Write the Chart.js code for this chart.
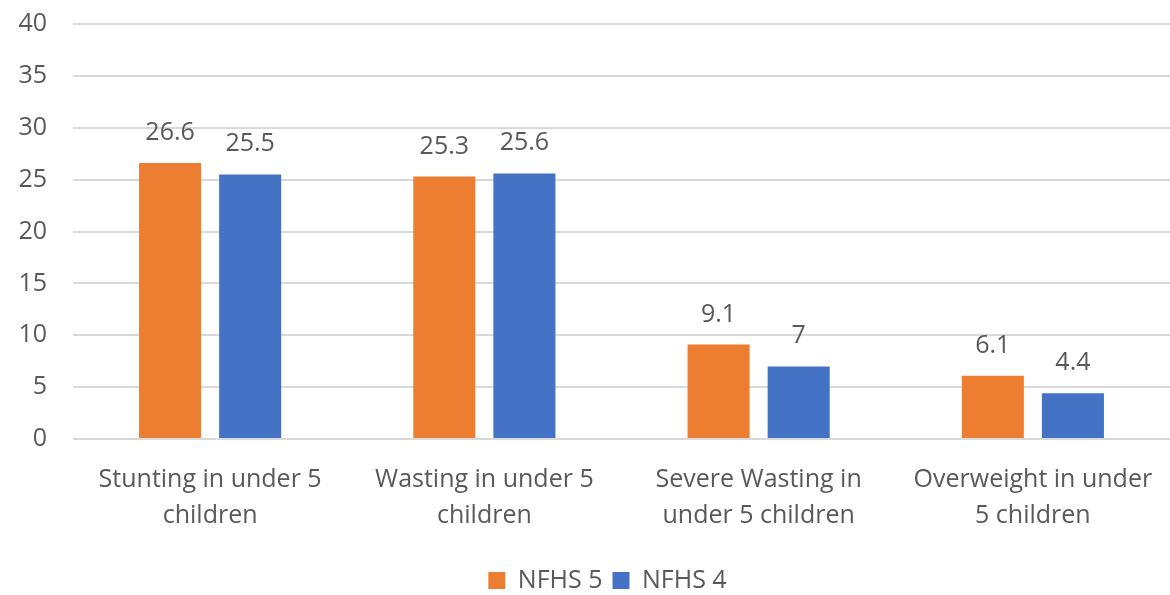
<!DOCTYPE html>
<html>
<head>
<meta charset="utf-8">
<script src="https://cdn.jsdelivr.net/npm/chart.js@4/dist/chart.umd.min.js"></script>
<style>
  html, body { margin: 0; padding: 0; background: #ffffff; }
  #wrap { width: 1170px; height: 595px; position: relative; }
</style>
</head>
<body>
<div id="wrap"><canvas id="chart"></canvas></div>
<script>
// Child nutrition indicators, NFHS 5 vs NFHS 4 (%)
const categories = [
  ["Stunting in under 5", "children"],
  ["Wasting in under 5", "children"],
  ["Severe Wasting in", "under 5 children"],
  ["Overweight in under", "5 children"]
];
const nfhs5 = [26.6, 25.3, 9.1, 6.1];
const nfhs4 = [25.5, 25.6, 7, 4.4];
const seriesNames = ["NFHS 5", "NFHS 4"];
const yTicks = [0, 5, 10, 15, 20, 25, 30, 35, 40];

const FONT = "'Open Sans', 'Noto Sans', sans-serif";
const TEXT = "#595959";
const LEGEND_OFFSET = 14;   // nudges the legend a little to the right

// Writes each bar's value above it
const valueLabels = {
  id: "valueLabels",
  afterDatasetsDraw(chart) {
    const ctx = chart.ctx;
    ctx.save();
    ctx.font = "25px " + FONT;
    ctx.fillStyle = TEXT;
    ctx.textAlign = "center";
    ctx.textBaseline = "alphabetic";
    chart.data.datasets.forEach((ds, i) => {
      const meta = chart.getDatasetMeta(i);
      meta.data.forEach((bar, j) => {
        ctx.fillText(String(ds.data[j]), bar.x, bar.y - 23);
      });
    });
    ctx.restore();
  }
};

const legendNudge = {
  id: "legendNudge",
  afterLayout(chart) {
    const lg = chart.legend;
    if (!lg) return;
    lg.left += LEGEND_OFFSET;
    lg.right += LEGEND_OFFSET;
  }
};

new Chart(document.getElementById("chart"), {
  type: "bar",
  data: {
    labels: categories,
    datasets: [
      { label: seriesNames[0], data: nfhs5, backgroundColor: "#ed7d31" },
      { label: seriesNames[1], data: nfhs4, backgroundColor: "#4472c4" }
    ]
  },
  options: {
    responsive: true,
    maintainAspectRatio: false,
    animation: false,
    devicePixelRatio: 1,
    layout: { padding: { left: 17, right: 0, top: 24, bottom: -8 } },
    datasets: {
      bar: { categoryPercentage: 0.584, barPercentage: 0.775 }
    },
    scales: {
      x: {
        grid: { display: false, drawTicks: false },
        border: { display: false },
        afterFit(scale) {
          scale.paddingLeft = 0;
          scale.paddingRight = 0;
          scale.height += 1;
        },
        ticks: {
          color: TEXT,
          font: { family: FONT, size: 25, lineHeight: 1.44 },
          padding: 23,
          maxRotation: 0,
          autoSkip: false
        }
      },
      y: {
        min: 0,
        max: 40,
        afterBuildTicks(axis) { axis.ticks = yTicks.map(v => ({ value: v })); },
        afterFit(axis) {
          axis.width = 56;
          axis.paddingTop = 0;
          axis.paddingBottom = 0;
        },
        grid: { color: "#d9d9d9", lineWidth: 2, drawTicks: false },
        border: { display: false },
        ticks: {
          color: TEXT,
          font: { family: FONT, size: 25 },
          padding: 26
        }
      }
    },
    plugins: {
      legend: {
        position: "bottom",
        labels: {
          color: TEXT,
          font: { family: FONT, size: 25 },
          boxWidth: 17,
          boxHeight: 17,
          padding: 10
        }
      },
      tooltip: { enabled: false }
    }
  },
  plugins: [valueLabels, legendNudge]
});
</script>
</body>
</html>
